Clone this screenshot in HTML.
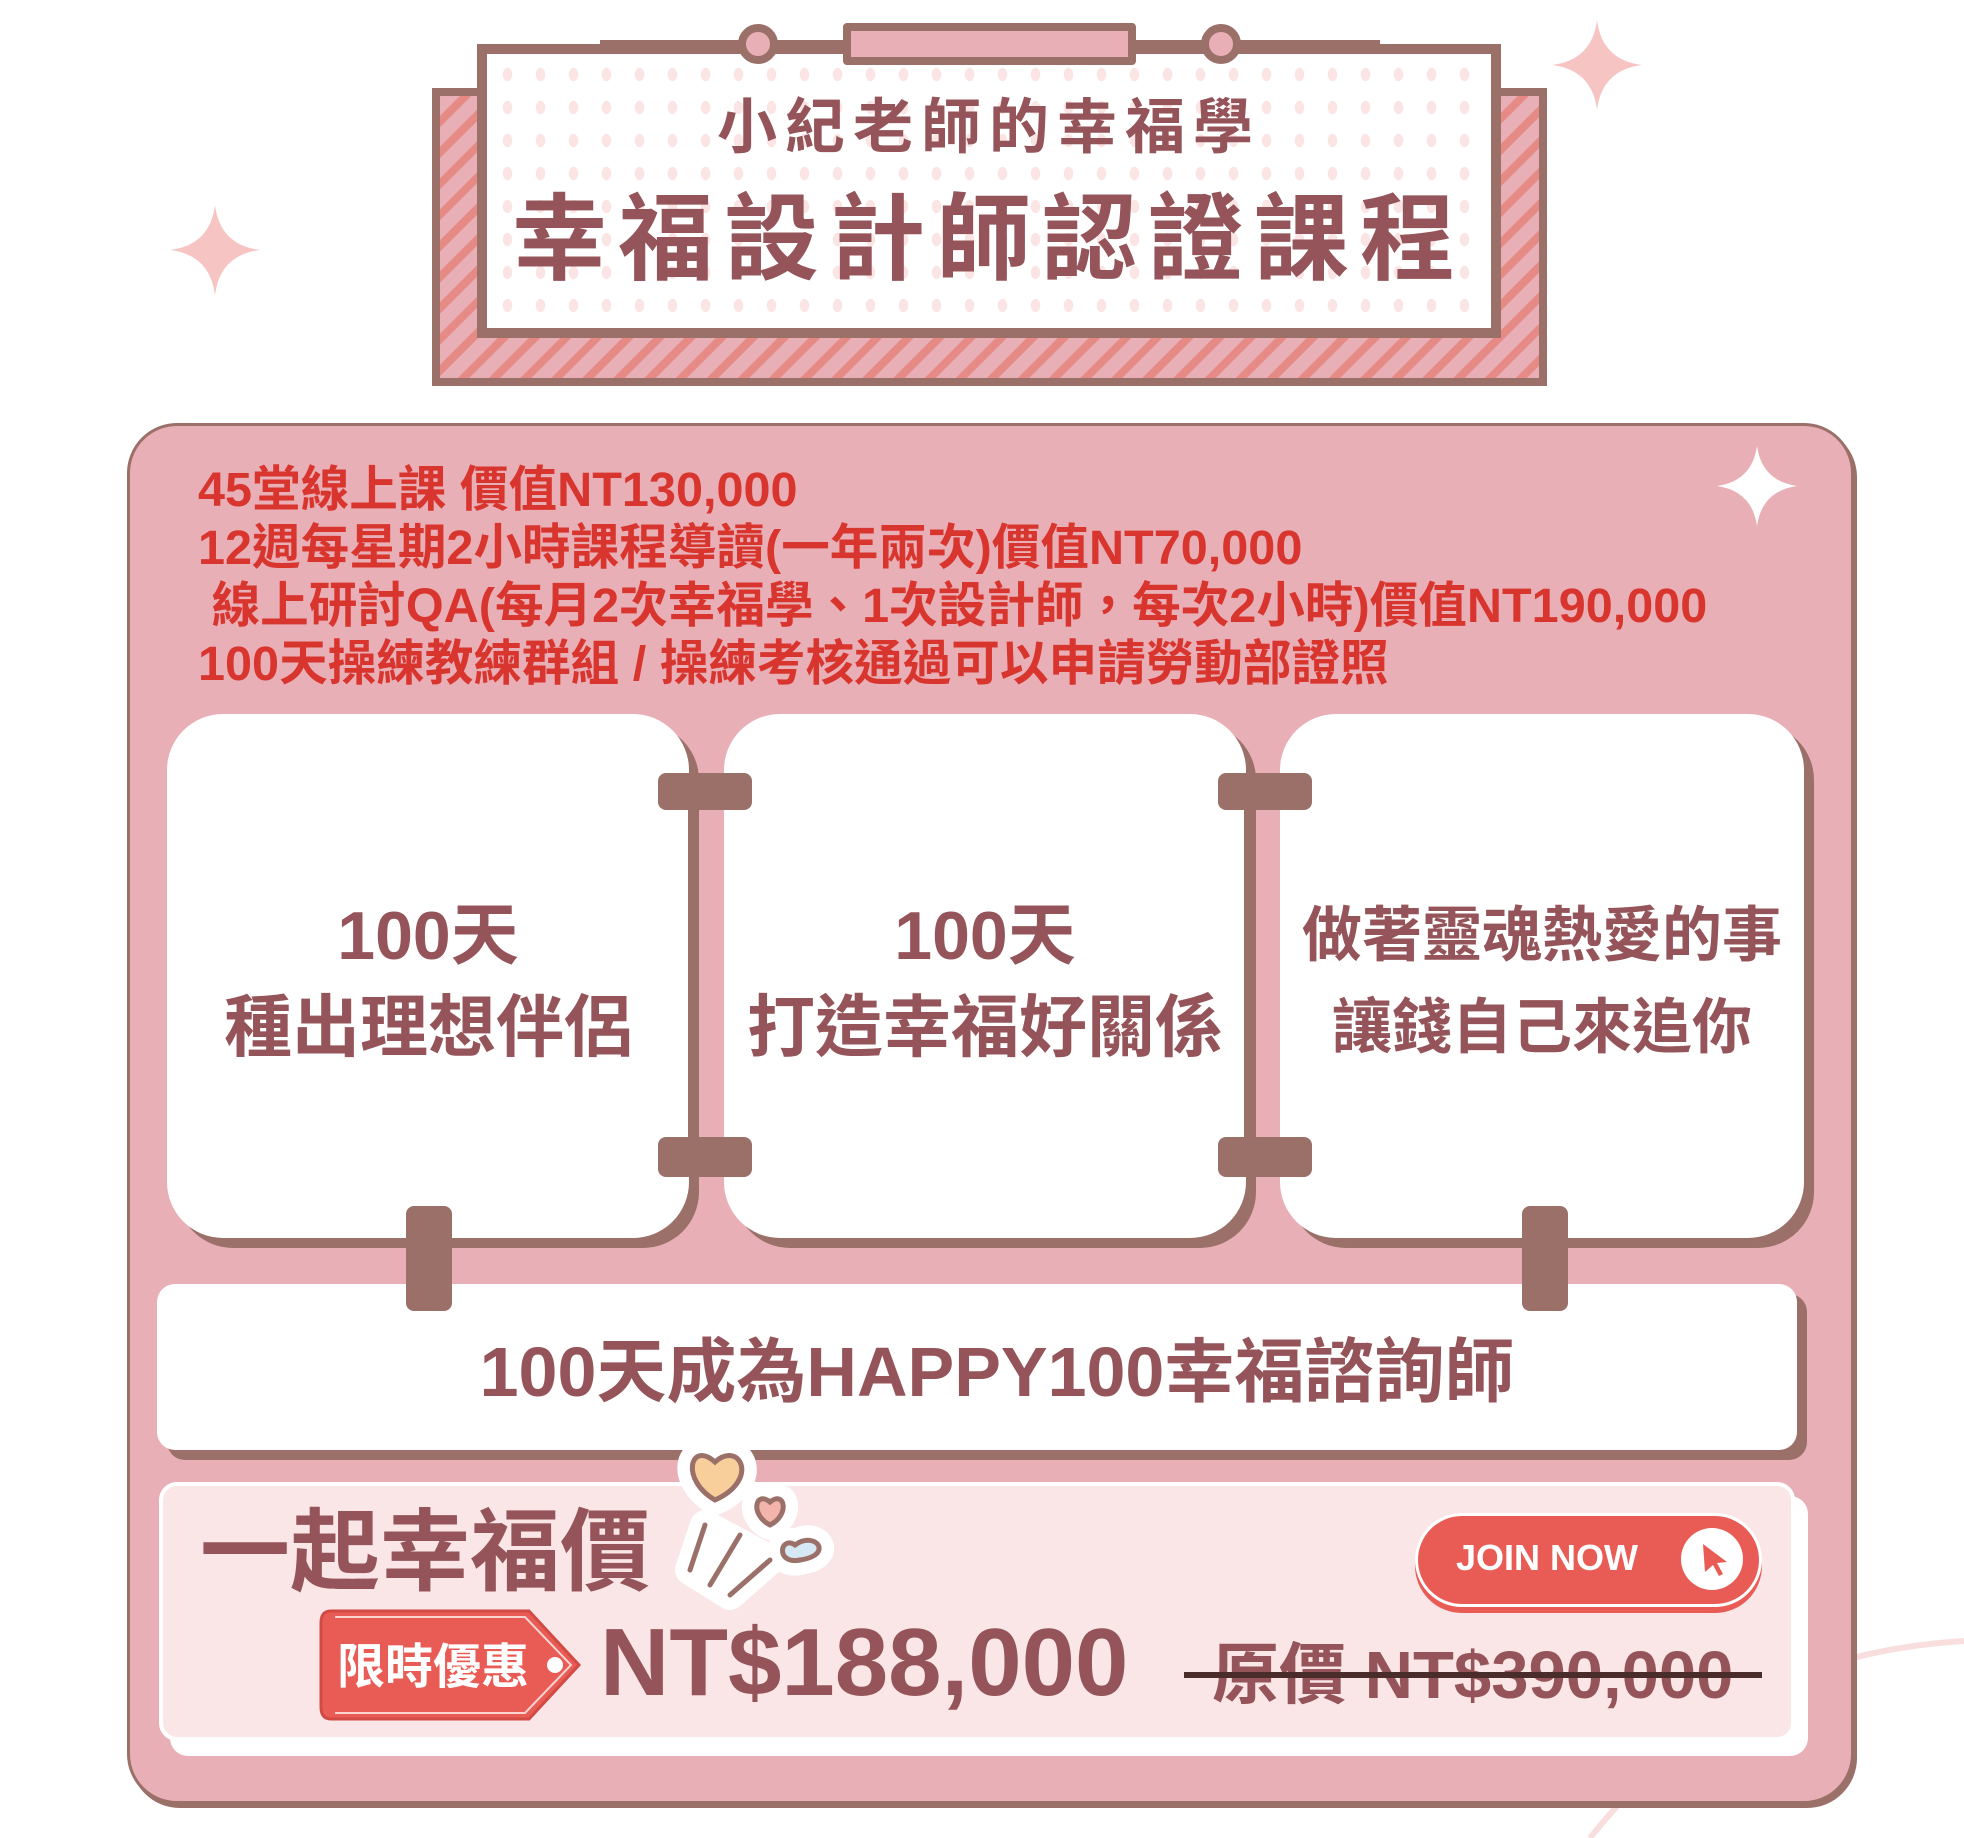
<!DOCTYPE html>
<html><head><meta charset="utf-8"><style>
*{margin:0;padding:0;box-sizing:border-box}
body{width:1964px;height:1838px;background:#fff;position:relative;overflow:hidden;font-family:"Liberation Sans","Noto Sans CJK TC",sans-serif;}
.a{position:absolute}
.t{position:absolute;white-space:nowrap;font-weight:bold}
.card{position:absolute;background:#fff;border-radius:56px;box-shadow:10px 10px 0 #9a7069;}
.br{position:absolute;background:#9a7069;border-radius:8px}
</style></head><body>
<svg class="a" style="left:0;top:0" width="1964" height="1838">
  <path d="M1964 1641 C1820 1650 1700 1700 1590 1838" stroke="#f9dede" stroke-width="6" fill="none"/>
</svg>
<svg class="a" style="left:170px;top:205px" width="90" height="90"><path d="M45 0 Q50 40 90 45 Q50 50 45 90 Q40 50 0 45 Q40 40 45 0Z" fill="#f6c5c3"/></svg>
<svg class="a" style="left:1552px;top:20px" width="90" height="90"><path d="M45 0 Q50 40 90 45 Q50 50 45 90 Q40 50 0 45 Q40 40 45 0Z" fill="#f6c5c3"/></svg>

<div class="a" style="left:432px;top:88px;width:1115px;height:298px;border:8px solid #9a7069;background:repeating-linear-gradient(135deg,#e9afb6 0 14px,#e58a85 14px 22px)"></div>
<div class="a" style="left:477px;top:44px;width:1024px;height:294px;border:10px solid #9a7069;background-color:#fff;background-image:radial-gradient(ellipse 5px 7px,#fbe4e4 90%,transparent 100%);background-size:33px 33px;background-position:4px 4px"></div>
<div class="a" style="left:600px;top:40px;width:780px;height:8px;background:#9a7069"></div>
<div class="a" style="left:843px;top:23px;width:293px;height:42px;border:8px solid #9a7069;background:#e9afb6;border-radius:4px"></div>
<div class="a" style="left:738px;top:24px;width:40px;height:40px;border:8px solid #9a7069;background:#e9afb6;border-radius:50%"></div>
<div class="a" style="left:1201px;top:24px;width:40px;height:40px;border:8px solid #9a7069;background:#e9afb6;border-radius:50%"></div>
<div class="t" style="left:477px;width:1024px;text-align:center;top:94px;font-size:60px;line-height:68px;color:#955459;letter-spacing:8px">小紀老師的幸福學</div>
<div class="t" style="left:477px;width:1024px;text-align:center;top:188px;font-size:95px;line-height:104px;color:#955459;letter-spacing:11px">幸福設計師認證課程</div>

<div class="a" style="left:127px;top:423px;width:1727px;height:1381px;background:#e9afb6;border:3px solid #9a7069;border-radius:50px;box-shadow:3px 4px 0 #9a7069"></div>
<svg class="a" style="left:1717px;top:446px" width="80" height="80"><path d="M40 0 Q45 35 80 40 Q45 45 40 80 Q35 45 0 40 Q35 35 40 0Z" fill="#fff"/></svg>
<div class="t" style="left:198px;top:461px;font-size:48.6px;line-height:58px;color:#d9352f;">45堂線上課 價值NT130,000<br>12週每星期2小時課程導讀(一年兩次)價值NT70,000<br>&nbsp;線上研討QA(每月2次幸福學、1次設計師，每次2小時)價值NT190,000<br>100天操練教練群組 / 操練考核通過可以申請勞動部證照</div>

<div class="card" style="left:167px;top:714px;width:522px;height:524px"></div>
<div class="card" style="left:724px;top:714px;width:522px;height:524px"></div>
<div class="card" style="left:1280px;top:714px;width:524px;height:524px"></div>
<div class="br" style="left:688px;top:790px;width:10px;height:370px;border-radius:0"></div>
<div class="br" style="left:1244px;top:790px;width:10px;height:370px;border-radius:0"></div>
<div class="br" style="left:658px;top:773px;width:94px;height:37px"></div>
<div class="br" style="left:658px;top:1137px;width:94px;height:40px"></div>
<div class="br" style="left:1218px;top:773px;width:94px;height:37px"></div>
<div class="br" style="left:1218px;top:1137px;width:94px;height:40px"></div>
<div class="t" style="left:167px;width:522px;text-align:center;top:890px;font-size:68px;line-height:92px;color:#955459">100天<br>種出理想伴侶</div>
<div class="t" style="left:724px;width:522px;text-align:center;top:890px;font-size:68px;line-height:92px;color:#955459">100天<br>打造幸福好關係</div>
<div class="t" style="left:1280px;width:524px;text-align:center;top:890px;font-size:60px;line-height:92px;color:#955459">做著靈魂熱愛的事<br>讓錢自己來追你</div>

<div class="a" style="left:157px;top:1284px;width:1640px;height:166px;background:#fff;border-radius:18px;box-shadow:10px 10px 0 #9a7069"></div>
<div class="br" style="left:406px;top:1206px;width:46px;height:105px"></div>
<div class="br" style="left:1522px;top:1206px;width:46px;height:105px"></div>
<div class="t" style="left:157px;width:1680px;text-align:center;top:1332px;font-size:70px;line-height:80px;color:#955459">100天成為HAPPY100幸福諮詢師</div>

<div class="a" style="left:170px;top:1496px;width:1638px;height:260px;background:#fff;border-radius:18px"></div>
<div class="a" style="left:159px;top:1482px;width:1636px;height:259px;background:#fae6e6;border:4px solid #fff;border-radius:18px"></div>
<div class="t" style="left:200px;top:1500px;font-size:90px;line-height:106px;color:#955459">一起幸福價</div>
<svg class="a" style="left:670px;top:1430px" width="190" height="180">
 <g fill="#fff" stroke="#fff" stroke-width="30" stroke-linejoin="round">
 <path d="M45 70 C10 50 20 10 45 32 C70 10 90 50 45 70Z"/>
 <path d="M100 95 C80 85 85 60 100 72 C115 60 120 85 100 95Z"/>
 <path d="M130 130 C105 135 110 105 125 115 C145 100 165 125 130 130Z"/>
 <path d="M35 95 L20 140 L60 165 L100 130Z"/>
 </g>
 <path d="M45 70 C10 50 20 10 45 32 C70 10 90 50 45 70Z" fill="#f8cf9a" stroke="#9a7069" stroke-width="5"/>
 <path d="M100 95 C80 85 85 60 100 72 C115 60 120 85 100 95Z" fill="#f3b5ab" stroke="#9a7069" stroke-width="5"/>
 <path d="M130 130 C105 135 110 105 125 115 C145 100 165 125 130 130Z" fill="#d5e8f3" stroke="#9a7069" stroke-width="5"/>
 <path d="M35 95 L20 140 M70 105 L40 155 M100 130 L60 165" stroke="#9a7069" stroke-width="5" stroke-linecap="round"/>
</svg>
<svg class="a" style="left:319px;top:1607px" width="265" height="116">
 <path d="M12 4 H210 L260 58 L210 112 H12 Q2 112 2 100 V16 Q2 4 12 4Z" fill="#e95c55" stroke="#d24a44" stroke-width="3"/>
 <path d="M16 10 H206 L252 58 L206 106 H16" fill="none" stroke="#fbd3cf" stroke-width="2"/>
 <circle cx="236" cy="58" r="8" fill="#fff"/>
 <text x="18" y="76" font-family="Liberation Sans, Noto Sans CJK TC, sans-serif" font-weight="bold" font-size="48" fill="#fff">限時優惠</text>
</svg>
<div class="t" style="left:600px;top:1608px;font-size:96px;line-height:110px;color:#955459">NT$188,000</div>
<div class="t" style="left:1212px;top:1638px;font-size:67px;line-height:76px;color:#955459">原價 NT$390,000</div>
<div class="a" style="left:1184px;top:1672px;width:578px;height:6px;background:#4a2c2a"></div>
<div class="a" style="left:1415px;top:1513px;width:347px;height:94px;background:#e95c55;border-radius:47px;border:3px solid #fff;box-shadow:0 6px 0 #e95c55"></div>
<div class="t" style="left:1456px;top:1535px;font-size:36px;line-height:46px;color:#fff">JOIN NOW</div>
<div class="a" style="left:1681px;top:1528px;width:62px;height:62px;background:#fff;border-radius:50%"></div>
<svg class="a" style="left:1697px;top:1540px" width="40" height="40"><path d="M6 4 L30 22 L20 23 L26 34 L22 36 L16 25 L8 32Z" fill="#e95c55"/></svg>
</body></html>
